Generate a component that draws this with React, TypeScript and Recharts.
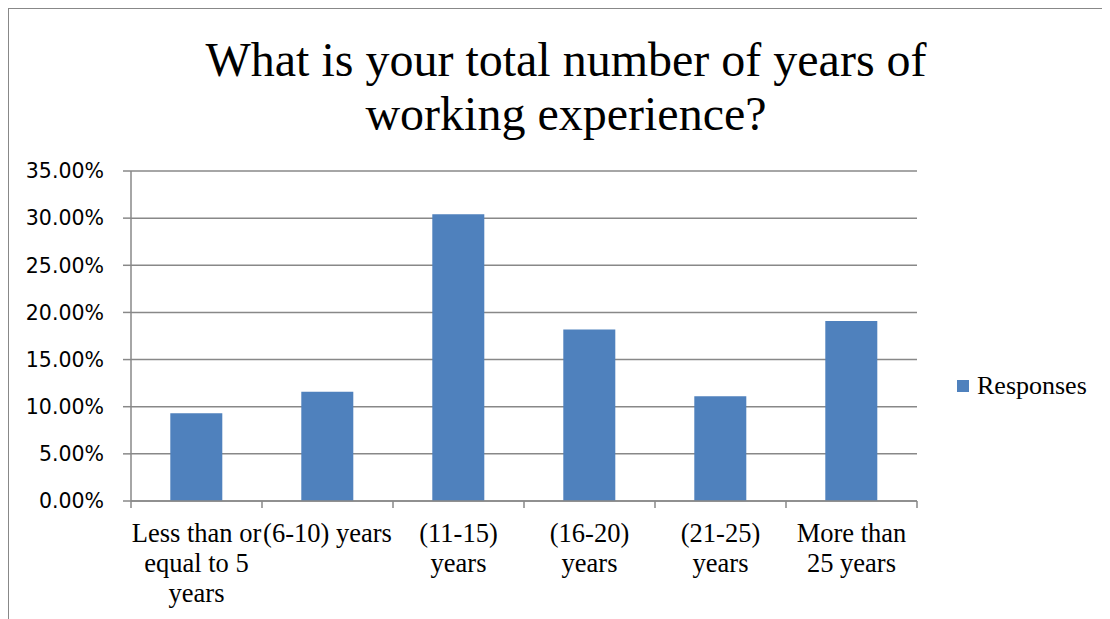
import React from 'react'
import { BarChart, Bar, XAxis, YAxis, CartesianGrid, Legend } from 'recharts'

const categories = [
  'Less than or\nequal to 5\nyears',
  '(6-10) years',
  '(11-15)\nyears',
  '(16-20)\nyears',
  '(21-25)\nyears',
  'More than\n25 years',
]
const responses = [9.3, 11.6, 30.4, 18.2, 11.1, 19.1]
const yTicks = [0, 5, 10, 15, 20, 25, 30, 35]

const data = categories.map((c, i) => ({ name: c, Responses: responses[i] }))

const W = 1102
const H = 611
const Y_W = 122
const M_RIGHT = 194
const PLOT_W = W - Y_W - M_RIGHT
const BAND = PLOT_W / categories.length
const GRAY = '#888888'
const BLUE = '#4F81BD'

function XTick(props: any) {
  const { x, y, payload, index } = props
  const lines = String(payload.value).split('\n')
  return (
    <g>
      <line x1={x - BAND / 2} x2={x - BAND / 2} y1={y} y2={y + 7} stroke={GRAY} strokeWidth={1.5} />
      {index === categories.length - 1 && (
        <line x1={x + BAND / 2} x2={x + BAND / 2} y1={y} y2={y + 7} stroke={GRAY} strokeWidth={1.5} />
      )}
      <text
        x={x}
        y={y}
        textAnchor="middle"
        fontFamily="'Liberation Serif', 'Times New Roman', serif"
        fontSize={26.5}
        fill="#000"
      >
        {lines.map((l, i) => (
          <tspan key={i} x={x} dy={i === 0 ? 41 : 30}>
            {l}
          </tspan>
        ))}
      </text>
    </g>
  )
}

function LegendBox() {
  return (
    <div
      style={{
        display: 'flex',
        alignItems: 'center',
        fontFamily: "'Liberation Serif', 'Times New Roman', serif",
        fontSize: 26,
        color: '#000',
        whiteSpace: 'nowrap',
      }}
    >
      <span style={{ width: 12, height: 12, background: BLUE, display: 'inline-block', marginRight: 8 }} />
      Responses
    </div>
  )
}

export default function App() {
  return (
    <div
      style={{
        position: 'relative',
        width: W,
        height: H,
        borderLeft: `2px solid ${GRAY}`,
        borderTop: `2px solid ${GRAY}`,
        marginLeft: -1,
        marginTop: -1,
        background: '#fff',
      }}
    >
      <div
        style={{
          position: 'absolute',
          left: 6,
          top: 24,
          width: W,
          textAlign: 'center',
          fontFamily: "'Liberation Serif', 'Times New Roman', serif",
          fontSize: 48,
          lineHeight: '54px',
          color: '#000',
        }}
      >
        What is your total number of years of
        <br />
        working experience?
      </div>
      <BarChart
        width={W}
        height={H}
        data={data}
        margin={{ top: 162, right: M_RIGHT, bottom: 9, left: 0 }}
        barCategoryGap="30%"
      >
        <CartesianGrid vertical={false} stroke={GRAY} strokeWidth={1.5} />
        <XAxis
          dataKey="name"
          interval={0}
          height={110}
          tickLine={false}
          tickSize={0}
          tickMargin={0}
          axisLine={{ stroke: GRAY, strokeWidth: 1.5 }}
          tick={<XTick />}
        />
        <YAxis
          width={Y_W}
          domain={[0, 35]}
          ticks={yTicks}
          interval={0}
          tickSize={8}
          tickMargin={19}
          tickFormatter={(v: number) => `${v.toFixed(2)}%`}
          tick={{ fill: '#000', fontSize: 20.5, fontFamily: "'DejaVu Sans', sans-serif" }}
          tickLine={{ stroke: GRAY, strokeWidth: 1.5 }}
          axisLine={{ stroke: GRAY, strokeWidth: 1.5 }}
        />
        <Legend
          layout="vertical"
          align="center"
          verticalAlign="middle"
          content={() => <LegendBox />}
          wrapperStyle={{ left: 948, top: 362, width: 'auto' }}
        />
        <Bar dataKey="Responses" fill={BLUE} isAnimationActive={false} />
      </BarChart>
    </div>
  )
}
